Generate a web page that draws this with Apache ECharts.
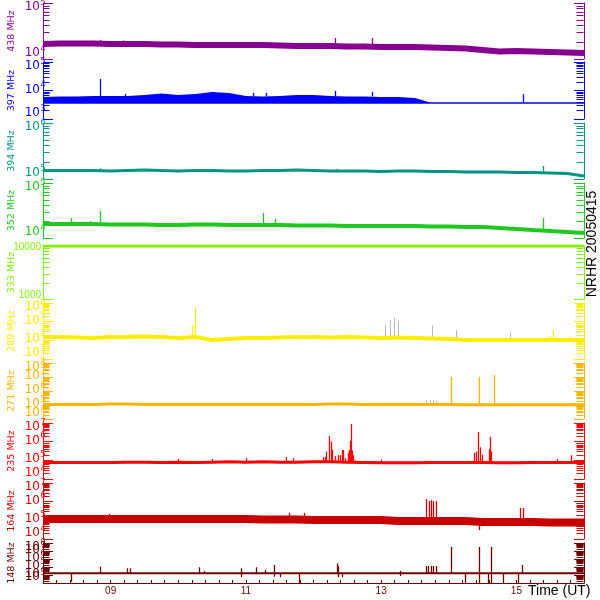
<!DOCTYPE html>
<html>
<head>
<meta charset="utf-8">
<script src="https://cdn.jsdelivr.net/npm/echarts@6.0.0/dist/echarts.min.js"></script>
<style>html,body{margin:0;padding:0;background:#fff;}#chart{width:600px;height:600px;}</style>
</head>
<body>
<div id="chart"></div>
<script>
// ---- data (time in days of April 2005, UT) ----
const T = [8.00,8.25,8.50,8.75,9.00,9.25,9.50,9.75,10.00,10.25,10.50,10.75,11.00,11.25,11.50,11.75,12.00,12.25,12.50,12.75,13.00,13.25,13.50,13.75,14.00,14.25,14.50,14.75,15.00,15.25,15.50,15.75,16.00];
const f438 = [1.85e4,1.89e4,1.89e4,1.89e4,1.85e4,1.85e4,1.85e4,1.82e4,1.82e4,1.78e4,1.78e4,1.78e4,1.78e4,1.78e4,1.74e4,1.71e4,1.71e4,1.71e4,1.67e4,1.67e4,1.64e4,1.64e4,1.64e4,1.60e4,1.57e4,1.54e4,1.45e4,1.36e4,1.39e4,1.36e4,1.33e4,1.31e4,1.28e4];
const f397hi = [5.91e3,6.16e3,6.16e3,6.41e3,6.41e3,6.41e3,6.95e3,7.85e3,6.95e3,7.54e3,8.86e3,8.17e3,6.41e3,6.16e3,6.41e3,6.95e3,6.95e3,6.41e3,6.16e3,6.16e3,5.91e3,5.91e3,5.46e3,3.64e3,3.64e3,3.64e3,3.64e3,3.64e3,3.64e3,3.64e3,3.64e3,3.64e3,3.64e3];
const f397lo = [3.64e3,3.64e3,3.64e3,3.64e3,3.64e3,3.64e3,3.64e3,3.64e3,3.64e3,3.64e3,3.64e3,3.64e3,3.64e3,3.64e3,3.64e3,3.64e3,3.64e3,3.64e3,3.64e3,3.64e3,3.64e3,3.64e3,3.64e3,3.64e3,3.64e3,3.64e3,3.64e3,3.64e3,3.64e3,3.64e3,3.64e3,3.64e3,3.64e3];
const f394 = [1.42e5,1.42e5,1.42e5,1.42e5,1.39e5,1.42e5,1.45e5,1.42e5,1.39e5,1.42e5,1.42e5,1.39e5,1.39e5,1.42e5,1.42e5,1.45e5,1.42e5,1.39e5,1.39e5,1.39e5,1.36e5,1.39e5,1.39e5,1.36e5,1.36e5,1.33e5,1.33e5,1.33e5,1.31e5,1.31e5,1.28e5,1.25e5,1.13e5];
const f352 = [1.80e4,1.80e4,1.80e4,1.80e4,1.76e4,1.76e4,1.76e4,1.72e4,1.72e4,1.76e4,1.76e4,1.72e4,1.72e4,1.72e4,1.72e4,1.69e4,1.69e4,1.69e4,1.65e4,1.65e4,1.65e4,1.65e4,1.65e4,1.62e4,1.62e4,1.59e4,1.59e4,1.52e4,1.46e4,1.40e4,1.34e4,1.29e4,1.23e4];
const f333 = [1e4,1e4,1e4,1e4,1e4,1e4,1e4,1e4,1e4,1e4,1e4,1e4,1e4,1e4,1e4,1e4,1e4,1e4,1e4,1e4,1e4,1e4,1e4,1e4,1e4,1e4,1e4,1e4,1e4,1e4,1e4,1e4,1e4];
const f289 = [1.51e4,1.51e4,1.42e4,1.33e4,1.51e4,1.51e4,1.60e4,1.51e4,1.33e4,1.51e4,1.04e4,1.18e4,1.33e4,1.33e4,1.42e4,1.51e4,1.51e4,1.42e4,1.51e4,1.42e4,1.33e4,1.42e4,1.33e4,1.25e4,1.18e4,1.04e4,1.04e4,1.04e4,1.04e4,1.04e4,1.04e4,1.04e4,1.04e4];
const f271 = [1.09e5,1.09e5,1.09e5,1.09e5,1.18e5,1.18e5,1.09e5,1.09e5,1.09e5,1.09e5,1.09e5,1.09e5,1.09e5,1.09e5,1.09e5,1.09e5,1.09e5,1.18e5,1.18e5,1.09e5,1.09e5,1.09e5,1.09e5,1.09e5,1.09e5,1.05e5,1.05e5,1.05e5,1.05e5,1.05e5,1.05e5,1.05e5,1.05e5];
const f235 = [7.7e4,7.7e4,7.7e4,7.7e4,7.7e4,8.0e4,8.0e4,7.7e4,8.0e4,7.7e4,8.0e4,8.3e4,8.0e4,8.3e4,8.0e4,8.0e4,8.3e4,8.3e4,8.0e4,7.7e4,7.5e4,7.5e4,7.5e4,7.7e4,7.7e4,7.7e4,7.7e4,7.5e4,7.5e4,7.7e4,7.7e4,7.7e4,8.0e4];
const f164 = [1.18e5,1.18e5,1.18e5,1.18e5,1.18e5,1.18e5,1.18e5,1.18e5,1.18e5,1.18e5,1.18e5,1.18e5,1.18e5,1.11e5,1.11e5,1.11e5,1.04e5,1.04e5,1.04e5,1.04e5,1.04e5,9.2e4,9.2e4,9.2e4,9.2e4,9.2e4,8.1e4,8.1e4,8.1e4,8.1e4,7.65e4,7.65e4,7.65e4];
const f148 = [1.6e4,1.6e4,1.6e4,1.6e4,1.6e4,1.6e4,1.6e4,1.6e4,1.6e4,1.6e4,1.6e4,1.6e4,1.6e4,1.6e4,1.6e4,1.6e4,1.6e4,1.6e4,1.6e4,1.6e4,1.6e4,1.6e4,1.6e4,1.6e4,1.6e4,1.6e4,1.6e4,1.6e4,1.6e4,1.6e4,1.6e4,1.6e4,1.6e4];

// spikes: [time, low, high]
const s438 = [[8.84,1.89e4,2.2e4],[9.18,1.85e4,2.15e4],[12.32,1.71e4,2.37e4],[12.87,1.67e4,2.37e4],[15.62,1.31e4,1.45e4],[15.80,1.31e4,1.45e4]];
const s397 = [[8.84,6.2e3,2.53e4],[9.21,6.4e3,7.5e3],[11.11,6.2e3,8.2e3],[11.30,6.2e3,8.2e3],[12.32,6.4e3,9.6e3],[12.87,6.2e3,8.9e3],[15.10,3.64e3,7.5e3]];
const s394 = [[8.84,1.42e5,1.55e5],[12.35,1.39e5,1.52e5],[15.40,1.36e5,1.71e5]];
const s352 = [[8.41,1.80e4,2.31e4],[8.70,1.80e4,2.04e4],[8.84,1.80e4,3.09e4],[11.25,1.72e4,2.85e4],[11.43,1.72e4,2.22e4],[15.40,1.34e4,2.31e4]];
const s289 = [[9.29,1.51e4,2.2e4],[10.20,1.51e4,6.6e4],[10.25,1.51e4,5.4e5],[15.50,1.04e4,1.7e4],[15.54,1.04e4,3.5e4],[15.80,1.04e4,1.6e4]];
const s289grey = [[13.06,1.4e4,6.6e4],[13.13,1.4e4,1.23e5],[13.19,1.4e4,1.58e5],[13.25,1.4e4,9.0e4],[13.75,1.25e4,6.6e4],[14.10,1.18e4,3.6e4],[14.90,1.04e4,3.0e4]];
const s271 = [[9.00,1.09e5,1.6e5],[12.35,1.09e5,1.6e5],[12.45,1.09e5,1.4e5],[14.04,1.05e5,1.0e7],[14.45,1.05e5,1.0e7],[14.67,1.05e5,1.4e7],[15.81,1.05e5,1.4e5]];
const s271grey = [[13.67,1.09e5,2.3e5],[13.72,1.09e5,2.3e5],[13.77,1.09e5,2.3e5],[13.81,1.09e5,2.0e5]];
const s235 = [[10.00,8.0e4,1.2e5],[10.50,8.0e4,1.2e5],[11.00,8.0e4,1.3e5],[11.60,8.0e4,1.5e5],[11.70,8.0e4,1.3e5],[12.05,8.0e4,1.0e5],[12.14,8.0e4,1.5e5],[12.17,8.0e4,1.5e5],[12.19,8.0e4,2.9e5],[12.23,8.0e4,2.0e6],[12.26,8.0e4,1.0e6],[12.275,8.0e4,3.6e5],[12.32,8.0e4,1.7e5],[12.36,8.0e4,1.9e5],[12.39,8.0e4,1.9e5],[12.42,8.0e4,3.6e5],[12.44,8.0e4,3.6e5],[12.47,8.0e4,1.3e5],[12.51,8.0e4,2.5e5],[12.53,8.0e4,3.6e5],[12.54,8.0e4,1.1e6],[12.556,8.0e4,8.8e6],[12.575,8.0e4,3.3e5],[12.59,8.0e4,1.9e5],[12.615,8.0e4,1.0e5],[13.00,7.5e4,1.1e5],[14.38,7.7e4,2.5e5],[14.41,7.7e4,3.0e5],[14.435,7.7e4,3.3e6],[14.46,7.7e4,5.0e5],[14.49,7.7e4,2.0e5],[14.60,7.7e4,4.0e5],[14.612,7.7e4,1.8e6],[14.63,7.7e4,3.0e5],[15.60,7.7e4,1.2e5],[15.81,7.7e4,1.9e5]];
const s164 = [[8.98,1.3e5,2.2e5],[11.64,1.3e5,2.5e5],[11.86,1.3e5,2.5e5],[13.666,1.2e5,1.38e6],[13.703,1.2e5,1.08e6],[13.74,1.2e5,1.2e6],[13.769,1.2e5,1.08e6],[13.806,1.2e5,1.08e6],[14.44,3.0e4,8.0e4],[15.056,1.0e5,4.6e5],[15.101,1.0e5,4.6e5]];
const s148 = [[8.41,1.45e3,1.6e4],[8.84,1.6e4,1.1e5],[9.24,1.6e4,6.9e4],[9.29,1.6e4,6.9e4],[10.31,1.6e4,9.2e4],[10.38,1.6e4,3.2e4],[10.93,5.2e3,6.9e4],[11.15,1.6e4,9.2e4],[11.28,1.6e4,4.2e4],[11.42,6.1e3,1.78e5],[11.51,5.2e3,1.6e4],[11.79,1.0e3,1.6e4],[12.35,1.6e4,2.9e5],[12.36,5.2e3,1.33e5],[12.42,5.2e3,1.6e4],[13.28,7.5e3,3.2e4],[13.67,1.6e4,1.33e5],[13.70,1.6e4,1.33e5],[13.74,1.6e4,1.33e5],[13.77,1.6e4,1.33e5],[13.81,1.6e4,1.33e5],[14.036,1.6e4,3.2e7],[14.243,1.0e3,1.6e4],[14.45,1.0e3,3.2e7],[14.58,1.0e3,1.6e4],[14.627,1.0e3,3.2e7],[14.805,1.0e3,1.6e4],[15.03,1.0e3,1.6e4],[15.09,1.6e4,1.78e5]];

// ---- axes and labels ----
const names = ['438 MHz','397 MHz','394 MHz','352 MHz','333 MHz','289 MHz','271 MHz','235 MHz','164 MHz','148 MHz'];
const yMin = [1e4,1e3,1e5,1e4,1e3,1e3,1e4,1e4,1e4,1e3];
const yMax = [1e5,1e5,1e6,1e5,1e4,1e6,1e8,1e7,1e7,1e8];
const yTicks = [
  [1e4,1e5],
  [1e3,1e4,1e5],
  [1e5,1e6],
  [1e4,1e5],
  [1e3,1e4],
  [1e3,1e4,1e5,1e6],
  [1e4,1e5,1e6,1e7,1e8],
  [1e4,1e5,1e6,1e7],
  [1e4,1e5,1e6,1e7],
  [1e3,1e4,1e5,1e6,1e7,1e8]
];
const plainLabels = [false,false,false,false,true,false,false,false,false,false];
const xLabelDays = [9,11,13,15];
const xLabelText = ['09','11','13','15'];

// ---- styling / layout ----
const colors = ['#880090','#0000ff','#009682','#1ec81e','#7ff000','#ffee00','#ffb400','#ff0000','#c80000','#6e0000'];
const tops = [3,62,123,183,246,303,363,423,483,543];
const bottoms = [59,119,179,238,299,359,419,479,539,583];
const lineW = [6,1.5,3,4,3,4,3,3,8,2];
const mainData = [f438,f397lo,f394,f352,f333,f289,f271,f235,f164,f148];
const spikeData = [s438,s397,s394,s352,[],s289,s271,s235,s164,s148];
const greyData = [[],[],[],[],[],s289grey,s271grey,[],[],[]];
const GREY = '#b8b8b8';
const FONT = 'DejaVu Sans';

const grids = [], xAxes = [], yAxes = [], series = [];
for (let i = 0; i < 10; i++) {
  const c = colors[i];
  grids.push({left: 43, width: 541, top: tops[i], height: bottoms[i] - tops[i], containLabel: false, outerBoundsMode: 'none'});
  const last = i === 9;
  xAxes.push({
    type: 'value', gridIndex: i, min: 8, max: 16, interval: 0.2, show: last,
    axisLine: {show: last, onZero: false, lineStyle: {color: c, width: 1}},
    axisTick: {show: last, inside: true, length: 3, lineStyle: {color: c}},
    splitLine: {show: false},
    axisLabel: {show: last, color: c, fontSize: 10, fontFamily: 'Liberation Sans', margin: 3, hideOverlap: false,
      formatter: v => { const k = xLabelDays.findIndex(d => Math.abs(d - v) < 1e-6); return k >= 0 ? xLabelText[k] : ''; }}
  });
  const common = {
    type: 'log', logBase: 10, gridIndex: i, min: yMin[i], max: yMax[i],
    axisLine: {show: true, lineStyle: {color: c, width: 1}},
    axisTick: {show: true, inside: true, length: 10, lineStyle: {color: c}},
    axisLabel: {show: false},
    splitLine: {show: false}, minorTick: {show: false}, minorSplitLine: {show: false}
  };
  yAxes.push(Object.assign({}, common, {
    position: 'left',
    name: names[i], nameLocation: 'middle', nameRotate: 90, nameGap: 26, nameMoveOverlap: false,
    nameTextStyle: {color: c, fontSize: 9.5, fontFamily: FONT}
  }));
  yAxes.push(Object.assign({}, common, {position: 'right'}));
  const yi = 2 * i;

  // main trace
  series.push({
    type: 'line', xAxisIndex: i, yAxisIndex: yi, data: T.map((t, k) => [t, mainData[i][k]]),
    showSymbol: false, silent: true, animation: false, clip: true,
    lineStyle: {color: c, width: lineW[i], cap: 'butt', join: 'miter'}
  });
  if (i === 1) {
    series.push({
      type: 'custom', xAxisIndex: i, yAxisIndex: yi, silent: true, clip: true,
      data: T.map((t, k) => [t, f397lo[k], f397hi[k]]), encode: {x: 0, y: [1, 2]},
      renderItem: (p, api) => {
        if (p.dataIndexInside !== 0) return null;
        const n = p.dataInsideLength, top = [], bot = [];
        for (let k = 0; k < n; k++) {
          const t = api.value(0, k);
          top.push(api.coord([t, api.value(2, k)]));
          bot.push(api.coord([t, api.value(1, k)]));
        }
        return {type: 'polygon', shape: {points: top.concat(bot.reverse())}, style: {fill: c}};
      }
    });
  }
  const spikeSeries = (rows, col, w) => ({
    type: 'custom', xAxisIndex: i, yAxisIndex: yi, silent: true, clip: true,
    data: rows, encode: {x: 0, y: [1, 2]},
    renderItem: (p, api) => {
      const a = api.coord([api.value(0), api.value(1)]);
      const b = api.coord([api.value(0), api.value(2)]);
      const x = Math.round(a[0]) + 0.5;
      return {type: 'line', shape: {x1: x, y1: a[1], x2: x, y2: b[1]}, style: {stroke: col, lineWidth: w}};
    }
  });
  if (spikeData[i].length) series.push(spikeSeries(spikeData[i], c, 1.3));
  if (greyData[i].length) series.push(spikeSeries(greyData[i], GREY, 1));

  // minor ticks (2..9 per decade) on both sides
  const minor = [];
  for (let d = Math.round(Math.log10(yMin[i])); d < Math.round(Math.log10(yMax[i])); d++)
    for (let m = 2; m <= 9; m++) minor.push([8, m * Math.pow(10, d)]);
  series.push({
    type: 'custom', xAxisIndex: i, yAxisIndex: yi, silent: true, clip: false, z: 5,
    data: minor, encode: {x: 0, y: 1},
    renderItem: (p, api) => {
      const v = api.value(1);
      const l = api.coord([8, v]), r = api.coord([16, v]);
      const y = Math.round(l[1]) + 0.5;
      const lx = Math.round(l[0]) + 0.5, rx = Math.round(r[0]) - 0.5;
      return {type: 'group', children: [
        {type: 'line', shape: {x1: lx, y1: y, x2: lx + 6, y2: y}, style: {stroke: c, lineWidth: 1}},
        {type: 'line', shape: {x1: rx, y1: y, x2: rx - 7, y2: y}, style: {stroke: c, lineWidth: 1}}
      ]};
    }
  });

  // decade tick labels (10 with superscript exponent), placed through the axis scale
  series.push({
    type: 'custom', xAxisIndex: i, yAxisIndex: yi, silent: true, clip: false, z: 6,
    data: yTicks[i].map(v => [8, v]), encode: {x: 0, y: 1},
    renderItem: (p, api) => {
      const v = api.value(1);
      const pt = api.coord([8, v]);
      const isMax = Math.abs(v - yMax[i]) < 1e-9 * v, isMin = Math.abs(v - yMin[i]) < 1e-9 * v;
      if (plainLabels[i]) {
        const dy = isMax ? 1 : (isMin ? -4 : 0);
        return {type: 'text', x: pt[0] - 2, y: pt[1] + dy,
          style: {text: String(Math.round(v)), fill: c, font: '10px "Liberation Sans"', align: 'right', verticalAlign: 'middle', textAlign: 'right', textVerticalAlign: 'middle'}};
      }
      const dy = isMax ? 4 : (isMin ? -6 : -1);
      const e = String(Math.round(Math.log10(v)));
      const y = pt[1] + dy;
      return {type: 'group', children: [
        {type: 'text', x: pt[0] - 3, y: y,
         style: {text: '10', fill: c, font: '12px "DejaVu Sans"', align: 'right', verticalAlign: 'middle', textAlign: 'right', textVerticalAlign: 'middle'}},
        {type: 'text', x: pt[0] - 2.5, y: y - 4.5,
         style: {text: e, fill: c, font: '8px "DejaVu Sans"', align: 'left', verticalAlign: 'middle', textAlign: 'left', textVerticalAlign: 'middle'}}
      ]};
    }
  });
}

const chart = echarts.init(document.getElementById('chart'), null, {renderer: 'canvas'});
chart.setOption({
  animation: false,
  backgroundColor: '#ffffff',
  grid: grids, xAxis: xAxes, yAxis: yAxes, series: series,
  graphic: [
    {type: 'text', x: 592, y: 244, rotation: Math.PI / 2, silent: true,
     style: {text: 'NRHR 20050415', font: '14px "Liberation Sans"', fill: '#000', align: 'center', verticalAlign: 'middle'}},
    {type: 'text', x: 528, y: 591, silent: true,
     style: {text: 'Time (UT)', font: '14px "Liberation Sans"', fill: '#000', align: 'left', verticalAlign: 'middle'}}
  ]
});
</script>
</body>
</html>
